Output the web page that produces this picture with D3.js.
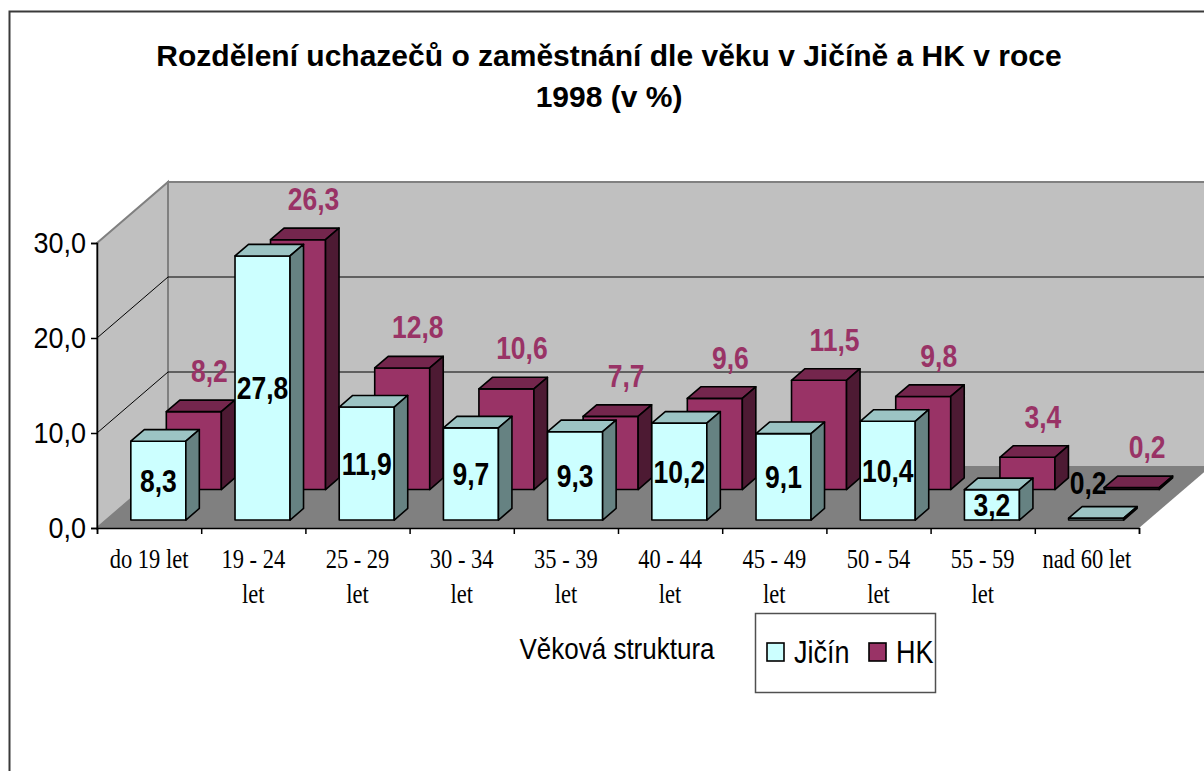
<!DOCTYPE html>
<html>
<head>
<meta charset="utf-8">
<script src="https://cdn.jsdelivr.net/npm/d3@7"></script>
<style>
    body { margin: 0; background: #ffffff; }
    svg { display: block; }
</style>
</head>
<body>
<div class="chart"></div>
<script>
// #region Data
const categories = ["do 19 let", "19 - 24\nlet", "25 - 29\nlet", "30 - 34\nlet", "35 - 39\nlet",
    "40 - 44\nlet", "45 - 49\nlet", "50 - 54\nlet", "55 - 59\nlet", "nad 60 let"];
const jicinValues = [8.3, 27.8, 11.9, 9.7, 9.3, 10.2, 9.1, 10.4, 3.2, 0.2];
const hkValues = [8.2, 26.3, 12.8, 10.6, 7.7, 9.6, 11.5, 9.8, 3.4, 0.2];
const seriesNames = ["Jičín", "HK"];
const yTicks = [0, 10, 20, 30];
const titleLines = ["Rozdělení uchazečů o zaměstnání dle věku v Jičíně a HK v roce", "1998 (v %)"];
const xTitle = "Věková struktura";
// #endregion

const width = 1204, height = 771;
const sans = "Arial, 'Liberation Sans', sans-serif";
const serif = "'Times New Roman', 'Liberation Serif', serif";

// depth of the whole floor (projection offset)
const depthX = 71, depthY = -61;

const svg = d3.select(".chart").append("svg")
    .attr("width", width)
    .attr("height", height);

svg.append("rect").attr("width", width).attr("height", height).attr("fill", "#ffffff");

// outer chart frame
svg.append("rect")
    .attr("x", 9.5).attr("y", 11.5)
    .attr("width", 1400).attr("height", 1000)
    .attr("fill", "none").attr("stroke", "#3a3a3a").attr("stroke-width", 2);

// #region Scales
const xScale = d3.scaleBand()
    .domain(categories)
    .range([97, 1139]);
const xEdges = d3.scaleLinear()
    .domain([0, categories.length])
    .range(xScale.range());
const yScale = d3.scaleLinear()
    .domain([0, 30])
    .range([528, 243]);
const fmt = d3.formatLocale({ decimal: ",", thousands: " ", grouping: [3], currency: ["", " Kč"] }).format(".1f");

// project a point of the front plane to depth t (0 = front, 1 = back wall)
function P(x, v, t) {
    return [x + t * depthX, yScale(v) + t * depthY];
}
// #endregion

// #region Walls and floor
const x0 = xScale.range()[0], x1 = xScale.range()[1];
const yMax = yScale.domain()[1];
const poly = (pts) => pts.map(p => p.join(",")).join(" ");

svg.append("polygon")
    .attr("points", poly([P(x0, yMax, 1), P(x1, yMax, 1), P(x1, 0, 1), P(x0, 0, 1)]))
    .attr("fill", "#c0c0c0").attr("stroke", "#808080").attr("stroke-width", 2);
svg.append("polygon")
    .attr("points", poly([P(x0, yMax, 0), P(x0, yMax, 1), P(x0, 0, 1), P(x0, 0, 0)]))
    .attr("fill", "#c0c0c0").attr("stroke", "#808080").attr("stroke-width", 2);
svg.append("polygon")
    .attr("points", poly([P(x0, 0, 0), P(x1, 0, 0), P(x1, 0, 1), P(x0, 0, 1)]))
    .attr("fill", "#808080");

const gGrid = svg.append("g").attr("class", "grid");
yTicks.filter(v => v > 0 && v < yMax).forEach(v => {
    const a = P(x0, v, 0), b = P(x0, v, 1), c = P(x1, v, 1);
    gGrid.append("polyline")
        .attr("points", poly([a, b, c]))
        .attr("fill", "none").attr("stroke", "#000").attr("stroke-width", 1);
});
// #endregion

// #region Axes
const gYScale = svg.append("g")
    .attr("class", "yScale")
    .attr("transform", "translate(" + x0 + ",0)")
    .call(d3.axisLeft(yScale).tickValues(yTicks).tickSize(6).tickPadding(5).tickFormat(fmt));
gYScale.select(".domain").attr("stroke", "#000").attr("stroke-width", 1.5);
gYScale.selectAll("line").attr("stroke", "#000").attr("stroke-width", 1.5);
gYScale.selectAll("text")
    .attr("font-family", sans).attr("font-size", 27).attr("fill", "#000")
    .attr("transform", "scale(1,1.12)");

const gXScale = svg.append("g")
    .attr("class", "xScale")
    .attr("transform", "translate(0," + yScale(0) + ")")
    .call(d3.axisBottom(xEdges).tickValues(d3.range(categories.length + 1)).tickSize(6).tickFormat(""));
gXScale.select(".domain").attr("stroke", "#000").attr("stroke-width", 1.5);
gXScale.selectAll("line").attr("stroke", "#000").attr("stroke-width", 1.5);

const gXLabels = svg.append("g").attr("class", "xLabels");
categories.forEach(c => {
    c.split("\n").forEach((line, li) => {
        gXLabels.append("g")
            .attr("transform", "translate(" + (xScale(c) + xScale.bandwidth() / 2) + "," + (568 + li * 35) + ") scale(1,1.2)")
            .append("text")
            .attr("text-anchor", "middle")
            .attr("font-family", serif).attr("font-size", 22.5).attr("fill", "#000")
            .text(line);
    });
});
// #endregion

// #region Bars
const barWidth = xScale.bandwidth() * 0.528;
const barDepth = 0.19;
const seriesStyle = [
    { values: jicinValues, front: "#ccffff", top: "#9cc4c4", side: "#668282", t0: 0.13 },
    { values: hkValues, front: "#993366", top: "#74264d", side: "#4d1a33", t0: 0.63 }
];

function drawBar(g, s, i) {
    const v = s.values[i];
    const bx = xScale(categories[i]) + (xScale.bandwidth() - barWidth) / 2;
    const t0 = s.t0, t1 = s.t0 + barDepth;
    g.append("polygon")
        .attr("points", poly([P(bx, v, t0), P(bx + barWidth, v, t0), P(bx + barWidth, 0, t0), P(bx, 0, t0)]))
        .attr("fill", s.front);
    g.append("polygon")
        .attr("points", poly([P(bx, v, t0), P(bx + barWidth, v, t0), P(bx + barWidth, v, t1), P(bx, v, t1)]))
        .attr("fill", s.top);
    g.append("polygon")
        .attr("points", poly([P(bx + barWidth, v, t0), P(bx + barWidth, v, t1), P(bx + barWidth, 0, t1), P(bx + barWidth, 0, t0)]))
        .attr("fill", s.side);
    g.selectAll("polygon")
        .attr("stroke", "#000").attr("stroke-width", 1.6).attr("stroke-linejoin", "round");
}

// back row first, then front row
[1, 0].forEach(si => {
    const s = seriesStyle[si];
    const gRow = svg.append("g").attr("class", "gBarChart" + seriesNames[si]);
    s.values.forEach((v, i) => drawBar(gRow.append("g"), s, i));
});
// #endregion

// #region Data labels
function label(parent, x, y, txt, color) {
    parent.append("g")
        .attr("transform", "translate(" + x + "," + y + ") scale(1,1.15)")
        .append("text")
        .attr("text-anchor", "middle")
        .attr("dy", "0.36em")
        .attr("font-family", sans).attr("font-size", 26.5).attr("font-weight", "bold")
        .attr("fill", color)
        .text(txt);
}
const gLabels = svg.append("g").attr("class", "labels");
hkValues.forEach((v, i) => {
    const s = seriesStyle[1];
    const bx = xScale(categories[i]) + (xScale.bandwidth() - barWidth) / 2;
    const top = P(bx + barWidth / 2, v, s.t0 + barDepth);
    label(gLabels, top[0] + 2, top[1] - 29, fmt(v), "#993366");
});
jicinValues.forEach((v, i) => {
    const s = seriesStyle[0];
    const bx = xScale(categories[i]) + (xScale.bandwidth() - barWidth) / 2;
    const ft = P(bx + barWidth / 2, v, s.t0), fb = P(bx + barWidth / 2, 0, s.t0);
    if (fb[1] - ft[1] > 15) {
        label(gLabels, ft[0], (ft[1] + fb[1]) / 2, fmt(v), "#000");
    } else {
        label(gLabels, ft[0] - 8, ft[1] - 35, fmt(v), "#000");
    }
});
// #endregion

// #region Title
const gTitle = svg.append("g").attr("class", "gBarTitle");
titleLines.forEach((t, i) => {
    gTitle.append("text")
        .attr("x", 609).attr("y", 66 + i * 41)
        .attr("text-anchor", "middle")
        .attr("font-family", sans).attr("font-size", 30).attr("font-weight", "bold")
        .attr("fill", "#000")
        .text(t);
});
svg.append("g")
    .attr("transform", "translate(617,659) scale(1,1.15)")
    .append("text")
    .attr("text-anchor", "middle")
    .attr("font-family", sans).attr("font-size", 26).attr("fill", "#000")
    .text(xTitle);
// #endregion

// #region Legend
const gLegend = svg.append("g").attr("class", "gLegend");
gLegend.append("rect")
    .attr("x", 755.5).attr("y", 613.5).attr("width", 180).attr("height", 79)
    .attr("fill", "#fff").attr("stroke", "#505050").attr("stroke-width", 1.5);
const legendX = [767, 869];
seriesNames.forEach((name, i) => {
    gLegend.append("rect")
        .attr("x", legendX[i]).attr("y", 643).attr("width", 17).attr("height", 18)
        .attr("fill", seriesStyle[i].front).attr("stroke", "#000").attr("stroke-width", 1.6);
    gLegend.append("g")
        .attr("transform", "translate(" + (legendX[i] + 27) + ",663) scale(1,1.15)")
        .append("text")
        .attr("font-family", sans).attr("font-size", 27).attr("fill", "#000")
        .text(name);
});
// #endregion
</script>
</body>
</html>
